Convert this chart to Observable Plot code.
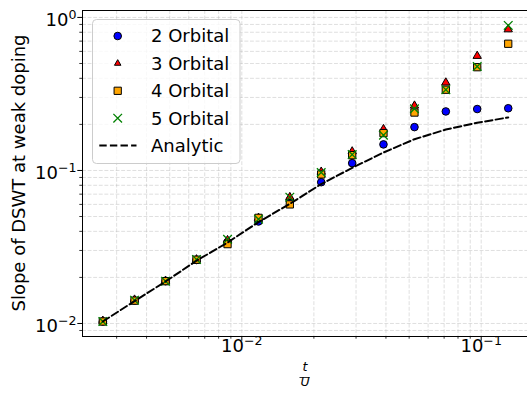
<!DOCTYPE html>
<html><head><meta charset="utf-8">
<script src="https://cdn.jsdelivr.net/npm/d3@7"></script>
<script src="https://cdn.jsdelivr.net/npm/@observablehq/plot@0.6"></script>
<style>
html,body{margin:0;padding:0;background:#fff;overflow:hidden}
svg{display:block;font-family:"DejaVu Sans"}
</style></head><body><div id="chart"></div>
<script>
// ---- data ----
const tOverU   = [0.002627,0.003563,0.004801,0.006466,0.008716,0.01174,0.01587,0.02146,0.02891,0.03906,0.05263,0.07115,0.09623,0.1297];
const orbital2 = [0.0103,0.0141,0.0189,0.0260,0.0340,0.0464,0.0637,0.0838,0.1116,0.148,0.192,0.243,0.252,0.255];
const orbital3 = [0.0104,0.0143,0.0190,0.0262,0.0350,0.0490,0.0669,0.0980,0.1330,0.186,0.265,0.375,0.560,0.835];
const orbital4 = [0.0103,0.0141,0.0189,0.0261,0.0330,0.0490,0.0600,0.0942,0.1259,0.1754,0.239,0.337,0.473,0.673];
const orbital5 = [0.0103,0.0142,0.0189,0.0262,0.0355,0.0480,0.0669,0.0970,0.1270,0.1700,0.253,0.337,0.478,0.887];
const analytic = [0.0103,0.0140,0.0188,0.0257,0.0338,0.0460,0.0605,0.0815,0.1040,0.1310,0.1600,0.1850,0.2050,0.2220];
const seriesNames = ["2 Orbital","3 Orbital","4 Orbital","5 Orbital","Analytic"];
const xMajorTicks = [0.01,0.1];
const xTickLabels = ["10^−2","10^−1"];
const yMajorTicks = [0.01,0.1,1];
const yTickLabels = ["10^−2","10^−1","10^0"];
const xMinorTicks = [0.003,0.004,0.005,0.006,0.007,0.008,0.009,0.02,0.03,0.04,0.05,0.06,0.07,0.08,0.09];
const yMinorTicks = [0.009,0.02,0.03,0.04,0.05,0.06,0.07,0.08,0.09,0.2,0.3,0.4,0.5,0.6,0.7,0.8,0.9];
const xLabelTop = "t", xLabelBottom = "U";
const yLabel = "Slope of DSWT at weak doping";

const rows = tOverU.map((t,i)=>({t, o2:orbital2[i], o3:orbital3[i], o4:orbital4[i], o5:orbital5[i], an:analytic[i]}));

const xDomain = [0.00216, 0.1561];
const yDomain = [0.00822, 1.11];
const gridStyle = {stroke:"#b0b0b0", strokeOpacity:0.5, strokeWidth:0.8, strokeDasharray:"3.9,1.7"};

const chart = Plot.plot({
  width:527, height:393,
  marginLeft:82, marginRight:0, marginTop:10, marginBottom:57,
  style:{fontFamily:"DejaVu Sans", fontSize:"18px", background:"white", overflow:"visible"},
  x:{type:"log", domain:xDomain},
  y:{type:"log", domain:yDomain},
  marks:[
    Plot.ruleX([...xMajorTicks,...xMinorTicks], gridStyle),
    Plot.ruleY([...yMajorTicks,...yMinorTicks], gridStyle),
    Plot.axisX({ticks:xMajorTicks, tickSize:4.7, tickFormat:()=>"", label:null, stroke:"black"}),
    Plot.axisX({ticks:xMinorTicks, tickSize:2.7, tickFormat:()=>"", label:null, stroke:"black", strokeWidth:0.8}),
    Plot.axisY({ticks:yMajorTicks, tickSize:4.7, tickFormat:()=>"", label:null, stroke:"black"}),
    Plot.axisY({ticks:yMinorTicks, tickSize:2.7, tickFormat:()=>"", label:null, stroke:"black", strokeWidth:0.8}),
    Plot.text(xMajorTicks, {x:d=>d, frameAnchor:"bottom", dy:15.5, text:(d,i)=>xTickLabels[i], fontSize:18, fill:"black"}),
    Plot.text(yMajorTicks, {y:d=>d, frameAnchor:"left", dx:-6, dy:3.2, textAnchor:"end", text:(d,i)=>yTickLabels[i], fontSize:18, fill:"black"}),
    Plot.text([xLabelTop], {frameAnchor:"bottom", dy:34, fontSize:12.6, fontStyle:"italic", fill:"black"}),
    Plot.text([xLabelBottom], {frameAnchor:"bottom", dy:49.5, fontSize:12.6, fontStyle:"italic", fill:"black"}),
    Plot.ruleX([xDomain[0]], {stroke:"black", strokeWidth:1}),
    Plot.ruleY(yDomain, {stroke:"black", strokeWidth:1}),
    Plot.dot(rows, {x:"t", y:"o2", symbol:"circle", r:3.8, fill:"blue", stroke:"black", strokeWidth:1}),
    Plot.dot(rows, {x:"t", y:"o3", symbol:"triangle", r:3.1, fill:"red", stroke:"black", strokeWidth:1}),
    Plot.dot(rows, {x:"t", y:"o4", symbol:"square", r:4.1, fill:"orange", stroke:"black", strokeWidth:1}),
    Plot.dot(rows, {x:"t", y:"o5", symbol:"times", r:4, stroke:"green", strokeWidth:1.3}),
    Plot.line(rows, {x:"t", y:"an", stroke:"black", strokeWidth:2, strokeDasharray:"7.4,3.2"})
  ]
});

// superscript exponents in tick labels
d3.select(chart).selectAll("text").each(function(){
  const s = this.textContent;
  const m = /^10\^(.+)$/.exec(s);
  if (!m) return;
  const t = d3.select(this);
  t.text("");
  t.append("tspan").text("10");
  t.append("tspan").attr("font-size","12.6px").attr("dy","-0.58em").text(m[1]);
});

const svg = d3.select(chart);
// y axis label
svg.append("text").attr("transform","translate(19.4,173) rotate(-90)")
  .attr("text-anchor","middle").attr("dy","0.32em").attr("font-size","18px")
  .attr("font-family","DejaVu Sans").attr("fill","black").text(yLabel);
// fraction bar of the x label
svg.append("line").attr("x1",299.5).attr("x2",309.5).attr("y1",377.5).attr("y2",377.5)
  .attr("stroke","black").attr("stroke-width",0.8);

// legend
const lg = svg.append("g");
lg.append("rect").attr("x",92.5).attr("y",19.5).attr("width",147.5).attr("height",144)
  .attr("rx",4).attr("fill","white").attr("fill-opacity",0.8).attr("stroke","#cccccc").attr("stroke-width",1);
const rowY = [36,63.4,90.8,118.2,145.6];
const mx = 117.7;
const syms = [
  {type:d3.symbolCircle, r:3.8, fill:"blue", stroke:"black", sw:1},
  {type:d3.symbolTriangle2, r:3.1, fill:"red", stroke:"black", sw:1},
  {type:d3.symbolSquare, r:4.1, fill:"orange", stroke:"black", sw:1},
  {type:d3.symbolTimes, r:4, fill:"none", stroke:"green", sw:1.3}
];
syms.forEach((s,i)=>{
  lg.append("path").attr("d", d3.symbol(s.type, Math.PI*s.r*s.r)())
    .attr("transform",`translate(${mx},${rowY[i]})`)
    .attr("fill",s.fill).attr("stroke",s.stroke).attr("stroke-width",s.sw);
});
lg.append("line").attr("x1",99.3).attr("x2",136.5).attr("y1",rowY[4]).attr("y2",rowY[4])
  .attr("stroke","black").attr("stroke-width",2).attr("stroke-dasharray","7.4,3.2");
seriesNames.forEach((n,i)=>{
  lg.append("text").attr("x",151).attr("y",rowY[i]).attr("dy","0.36em").attr("text-anchor","start")
    .attr("font-size","18px").attr("fill","black").attr("font-family","DejaVu Sans").text(n);
});

document.getElementById("chart").appendChild(chart);
</script></body></html>
